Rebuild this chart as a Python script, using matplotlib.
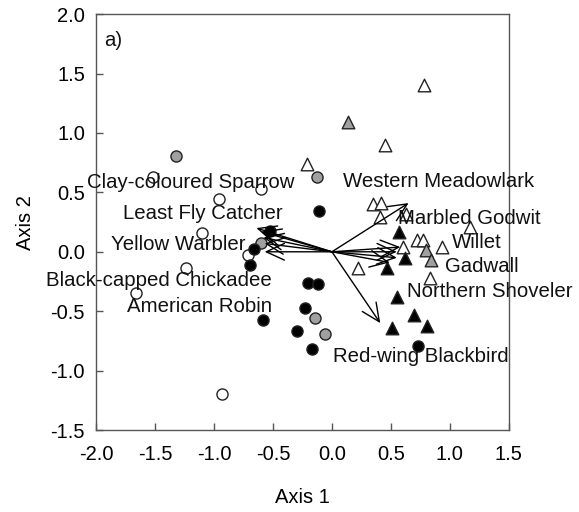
import matplotlib
matplotlib.use('Agg')
import matplotlib.pyplot as plt

plt.rcParams['font.family'] = ['Liberation Sans', 'DejaVu Sans']

# site scores, circles (open / grey / black)
circ_open_x = [-1.52, -0.955, -1.10, -0.60, -1.24, -1.66, -0.93, -0.71]
circ_open_y = [0.63, 0.44, 0.155, 0.53, -0.14, -0.35, -1.20, -0.03]
circ_grey_x = [-1.32, -0.125, -0.60, -0.145, -0.06]
circ_grey_y = [0.81, 0.63, 0.07, -0.56, -0.69]
circ_black_x = [-0.11, -0.525, -0.66, -0.695, -0.20, -0.12, -0.58, -0.23, -0.30, -0.165, 0.73]
circ_black_y = [0.34, 0.177, 0.02, -0.11, -0.26, -0.27, -0.575, -0.47, -0.665, -0.82, -0.79]

# site scores, triangles (open / grey / black)
tri_open_x = [0.78, 0.45, -0.21, 0.35, 0.415, 0.41, 0.63, 1.17, 0.72, 0.775, 0.93, 0.60, 0.83, 0.22]
tri_open_y = [1.40, 0.90, 0.74, 0.40, 0.41, 0.295, 0.32, 0.21, 0.10, 0.10, 0.04, 0.04, -0.22, -0.14]
tri_grey_x = [0.14, 0.80, 0.84]
tri_grey_y = [1.09, 0.015, -0.07]
tri_black_x = [0.57, 0.62, 0.47, 0.55, 0.70, 0.81, 0.51]
tri_black_y = [0.17, -0.055, -0.14, -0.38, -0.535, -0.625, -0.64]

# species vectors
arrow_x = [-0.64, -0.60, -0.58, -0.57, -0.57, 0.65, 0.58, 0.55, 0.55, 0.49, 0.41]
arrow_y = [0.20, 0.17, 0.12, 0.07, 0.0, 0.41, 0.04, 0.0, -0.05, -0.09, -0.60]

species = ['Clay-coloured Sparrow', 'Least Fly Catcher', 'Yellow Warbler',
           'Black-capped Chickadee', 'American Robin', 'Western Meadowlark',
           'Marbled Godwit', 'Willet', 'Gadwall', 'Northern Shoveler',
           'Red-wing Blackbird']
label_x = [-2.08, -1.77, -1.87, -2.42, -1.74, 0.09, 0.56, 1.02, 0.96, 0.64, 0.01]
label_y = [0.58, 0.325, 0.065, -0.24, -0.46, 0.595, 0.28, 0.075, -0.12, -0.33, -0.885]

fig = plt.figure(figsize=(5.79, 5.12), dpi=100)
ax = fig.add_axes([0.1658, 0.160, 0.713, 0.8125])

ms_c = 64
ms_t = 82
ec = '#222222'
ax.scatter(circ_open_x, circ_open_y, s=ms_c, marker='o', facecolor='white', edgecolor=ec, linewidth=1, zorder=3)
ax.scatter(circ_grey_x, circ_grey_y, s=ms_c, marker='o', facecolor='#a0a0a0', edgecolor=ec, linewidth=1, zorder=3)
ax.scatter(circ_black_x, circ_black_y, s=ms_c, marker='o', facecolor='black', edgecolor=ec, linewidth=1, zorder=3)
ax.scatter(tri_open_x, tri_open_y, s=ms_t, marker='^', facecolor='white', edgecolor=ec, linewidth=1, zorder=3)
ax.scatter(tri_grey_x, tri_grey_y, s=ms_t, marker='^', facecolor='#a0a0a0', edgecolor=ec, linewidth=1, zorder=3)
ax.scatter(tri_black_x, tri_black_y, s=ms_t, marker='^', facecolor='black', edgecolor=ec, linewidth=1, zorder=3)

for tx, ty in zip(arrow_x, arrow_y):
    ax.annotate('', xy=(tx, ty), xytext=(0, 0),
                arrowprops=dict(arrowstyle='->,head_length=0.65,head_width=0.3',
                                lw=1, color='black', shrinkA=0, shrinkB=0,
                                mutation_scale=20), zorder=4)

for name, lx, ly in zip(species, label_x, label_y):
    ax.text(lx, ly, name, fontsize=14.7, ha='left', va='center', color='#111111', zorder=5)

ax.text(-1.93, 1.78, 'a)', fontsize=14.7, ha='left', va='center', color='#111111')

ax.set_xlim(-2.0, 1.5)
ax.set_ylim(-1.5, 2.0)
ax.set_xticks([-2.0, -1.5, -1.0, -0.5, 0.0, 0.5, 1.0, 1.5])
ax.set_yticks([-1.5, -1.0, -0.5, 0.0, 0.5, 1.0, 1.5, 2.0])
ax.xaxis.set_major_formatter(matplotlib.ticker.FormatStrFormatter('%.1f'))
ax.yaxis.set_major_formatter(matplotlib.ticker.FormatStrFormatter('%.1f'))
ax.tick_params(direction='in', length=5, width=1, color='#555555', labelsize=14.5, pad=8)
ax.tick_params(axis='x', pad=11)
for sp in ax.spines.values():
    sp.set_color('#555555')
    sp.set_linewidth(1)

ax.set_xlabel('Axis 1', fontsize=14.5, labelpad=17)
ax.set_ylabel('Axis 2', fontsize=14.5, labelpad=11)

fig.savefig('out.png', dpi=100)
